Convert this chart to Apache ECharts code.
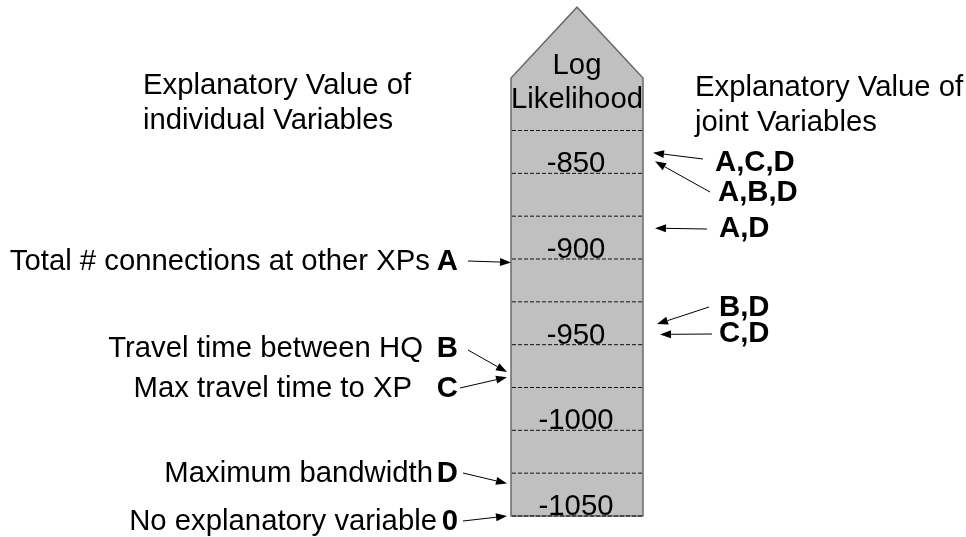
<!DOCTYPE html>
<html>
<head>
<meta charset="utf-8">
<script src="https://cdn.jsdelivr.net/npm/echarts@6/dist/echarts.min.js"></script>
<style>
  html, body { margin: 0; padding: 0; background: #fff; }
</style>
</head>
<body>
<div id="main" style="width: 966px; height: 537px"></div>
<script type="text/javascript">
// log likelihood scale
var tickValues = [-1050, -1025, -1000, -975, -950, -925, -900, -875, -850, -825];
var tickLabels = ["-1050", "-1000", "-950", "-900", "-850"];

// individual variables (left side)
var leftVars = [
  "Total # connections at other XPs",
  "Travel time between HQ",
  "Max travel time to XP",
  "Maximum bandwidth",
  "No explanatory variable"
];
var leftKeys = ["A", "B", "C", "D", "0"];
var leftLL = [-902, -966, -969, -1031, -1050];

// joint variables (right side)
var rightSets = ["A,C,D", "A,B,D", "A,D", "B,D", "C,D"];
var rightLL = [-838, -843, -882, -938, -944];

var FONT = '"Liberation Sans", Arial, sans-serif';
var FS = 29.3;

// layout of the annotations (pixels)
var leftLayout = [
  { nameRight: 430, y: 261, tail: [468, 261], tipX: 511 },
  { nameRight: 423, y: 348, tail: [468, 350], tipX: 507 },
  { nameRight: 412, y: 388, tail: [460, 388], tipX: 507 },
  { nameRight: 433, y: 473, tail: [463, 473], tipX: 507 },
  { nameRight: 437, y: 521, tail: [463, 521], tipX: 507 }
];
var rightLayout = [
  { x: 715, y: 162, tail: [703, 159], tipX: 653 },
  { x: 718, y: 192, tail: [710, 192], tipX: 655 },
  { x: 719, y: 228, tail: [707, 229], tipX: 655 },
  { x: 719, y: 307, tail: [709, 307], tipX: 657 },
  { x: 719, y: 333, tail: [712, 334], tipX: 660 }
];

function arrow(tail, tip) {
  var dx = tip[0] - tail[0], dy = tip[1] - tail[1];
  var len = Math.sqrt(dx * dx + dy * dy);
  var ux = dx / len, uy = dy / len;
  var hl = 11, hw = 4;
  var bx = tip[0] - ux * hl, by = tip[1] - uy * hl;
  return [
    {
      type: "line",
      shape: { x1: tail[0], y1: tail[1], x2: bx, y2: by },
      style: { stroke: "#000", lineWidth: 1 }
    },
    {
      type: "polygon",
      shape: {
        points: [
          [tip[0], tip[1]],
          [bx - uy * hw, by + ux * hw],
          [bx + uy * hw, by - ux * hw]
        ]
      },
      style: { fill: "#000" }
    }
  ];
}

function txt(s, x, y, align, bold) {
  return {
    type: "text",
    style: {
      text: s,
      x: x,
      y: y,
      fill: "#000",
      font: (bold ? "bold " : "") + FS + "px " + FONT,
      align: align,
      textAlign: align,
      verticalAlign: "middle",
      textVerticalAlign: "middle"
    }
  };
}

var myChart = echarts.init(document.getElementById("main"), null, { renderer: "canvas" });

var colL = 511, colR = 643, colC = 577;
var rectTop = -794.4, apex = -753;

var option = {
  animation: false,
  grid: { left: 0, right: 0, top: 2, bottom: 21 },
  xAxis: { type: "value", min: 0, max: 966, show: false },
  yAxis: { type: "value", min: -1050, max: -750, show: false },
  series: [
    {
      // the log likelihood column
      type: "custom",
      data: [0],
      z: 1,
      renderItem: function (params, api) {
        var children = [];
        var pts = [
          api.coord([colL, -1050]),
          api.coord([colL, rectTop]),
          api.coord([colC, apex]),
          api.coord([colR, rectTop]),
          api.coord([colR, -1050])
        ];
        children.push({
          type: "polygon",
          shape: { points: pts },
          style: { fill: "#c0c0c0", stroke: "#6a6a6a", lineWidth: 1.5 }
        });
        tickValues.forEach(function (v) {
          var p0 = api.coord([colL, v]);
          var p1 = api.coord([colR, v]);
          children.push({
            type: "line",
            shape: { x1: p0[0] + 1, y1: p0[1], x2: p1[0] - 1, y2: p1[1] },
            style: { stroke: "#111", lineWidth: 1, lineDash: [4, 2] }
          });
        });
        tickLabels.forEach(function (t) {
          var p = api.coord([colC - 1, Number(t)]);
          children.push(txt(t, p[0], p[1] - 9, "center", false));
        });
        children.push(txt("Log", colC, 66, "center", false));
        children.push(txt("Likelihood", colC, 100, "center", false));
        // headers
        children.push(txt("Explanatory Value of", 143, 86, "left", false));
        children.push(txt("individual Variables", 143, 121, "left", false));
        children.push(txt("Explanatory Value of", 695, 88, "left", false));
        children.push(txt("joint Variables", 695, 123, "left", false));
        return { type: "group", children: children };
      }
    },
    {
      // individual variables
      type: "custom",
      data: leftLL.map(function (v, i) { return [i, v]; }),
      z: 2,
      renderItem: function (params, api) {
        var i = api.value(0);
        var lay = leftLayout[i];
        var tip = [lay.tipX, api.coord([0, api.value(1)])[1]];
        var children = [
          txt(leftVars[i], lay.nameRight, lay.y + 1, "right", false),
          txt(leftKeys[i], 458, lay.y + 1, "right", true)
        ];
        return { type: "group", children: children.concat(arrow(lay.tail, tip)) };
      }
    },
    {
      // joint variables
      type: "custom",
      data: rightLL.map(function (v, i) { return [i, v]; }),
      z: 2,
      renderItem: function (params, api) {
        var i = api.value(0);
        var lay = rightLayout[i];
        var tip = [lay.tipX, api.coord([0, api.value(1)])[1]];
        var children = [txt(rightSets[i], lay.x, lay.y + 1, "left", true)];
        return { type: "group", children: children.concat(arrow(lay.tail, tip)) };
      }
    }
  ]
};
myChart.setOption(option);
</script>
</body>
</html>
